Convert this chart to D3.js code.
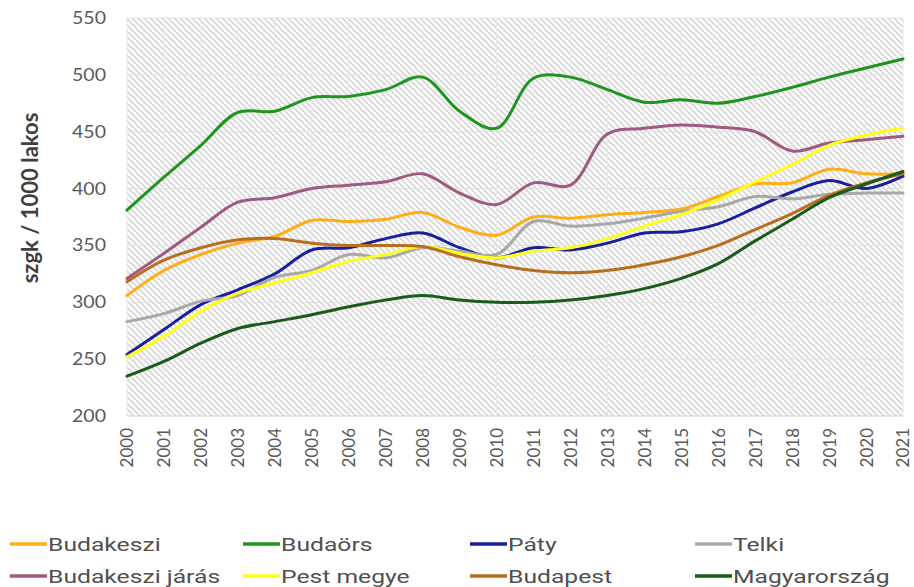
<!DOCTYPE html>
<html>
<head>
<meta charset="utf-8">
<script src="https://cdn.jsdelivr.net/npm/d3@7"></script>
<style>
  html, body { margin: 0; padding: 0; background: #fff; }
  svg { display: block; }
</style>
</head>
<body>
<svg id="chart" width="914" height="587"></svg>
<script>
// Passenger cars per 1000 inhabitants, 2000–2021
const years = [2000, 2001, 2002, 2003, 2004, 2005, 2006, 2007, 2008, 2009, 2010,
               2011, 2012, 2013, 2014, 2015, 2016, 2017, 2018, 2019, 2020, 2021];

const budakeszi     = [306, 328, 342, 352, 358, 372, 371, 373, 379, 366, 359, 375, 374, 377, 379, 382, 393, 404, 405, 417, 413, 413];
const budaors       = [381, 410, 438, 467, 468, 480, 481, 487, 498, 468, 453, 497, 498, 487, 476, 478, 475, 481, 489, 498, 506, 514];
const paty          = [254, 276, 298, 311, 325, 346, 348, 356, 361, 348, 339, 348, 346, 352, 361, 362, 369, 383, 397, 407, 400, 411];
const telki         = [283, 290, 301, 306, 322, 328, 342, 339, 348, 345, 342, 371, 367, 369, 374, 380, 384, 393, 391, 395, 396, 396];
const jaras         = [321, 343, 366, 388, 392, 400, 403, 406, 413, 396, 386, 405, 403, 448, 453, 456, 454, 450, 433, 440, 443, 446];
const pestMegye     = [252, 270, 292, 308, 317, 326, 336, 342, 349, 343, 339, 345, 348, 356, 367, 377, 390, 406, 421, 438, 447, 453];
const budapest      = [318, 337, 348, 355, 356, 352, 350, 350, 349, 340, 333, 328, 326, 328, 333, 340, 350, 364, 378, 394, 405, 413];
const magyarorszag  = [235, 248, 264, 277, 283, 289, 296, 302, 306, 302, 300, 300, 302, 306, 312, 321, 334, 354, 373, 392, 404, 415];

const seriesNames = ["Budakeszi", "Budaörs", "Páty", "Telki",
                     "Budakeszi járás", "Pest megye", "Budapest", "Magyarország"];
const seriesValues = [budakeszi, budaors, paty, telki, jaras, pestMegye, budapest, magyarorszag];
const seriesColors = ["#FFAE1A", "#1F951F", "#1A1F9C", "#A8A8A8",
                      "#A05A82", "#FFFF1A", "#B86E1E", "#1A5A1A"];

const yTicks = [200, 250, 300, 350, 400, 450, 500, 550];
const yTitle = "szgk / 1000 lakos";

const svg = d3.select("#chart");
const plot = { left: 127, right: 903, top: 18, bottom: 416 };

const x = d3.scalePoint().domain(years).range([plot.left, plot.right]);
const y = d3.scaleLinear().domain([200, 550]).range([plot.bottom, plot.top]);

// Diagonal hatch fill for the plotting area
const defs = svg.append("defs");
const pat = defs.append("pattern")
  .attr("id", "hatch")
  .attr("patternUnits", "userSpaceOnUse")
  .attr("width", 6).attr("height", 6);
pat.append("rect").attr("width", 6).attr("height", 6).attr("fill", "#ffffff");
pat.append("path")
  .attr("d", "M0,0 L6,6 M-1,5 L1,7 M5,-1 L7,1")
  .attr("stroke", "#d6d6d6")
  .attr("stroke-width", 1.6);

svg.append("rect")
  .attr("x", plot.left).attr("y", plot.top)
  .attr("width", plot.right - plot.left)
  .attr("height", plot.bottom - plot.top)
  .attr("fill", "url(#hatch)");

// Gridlines
svg.append("g")
  .selectAll("line")
  .data(yTicks.slice(1))
  .join("line")
  .attr("x1", plot.left).attr("x2", plot.right)
  .attr("y1", d => y(d)).attr("y2", d => y(d))
  .attr("stroke", "#e2e2e2").attr("stroke-width", 1);

svg.append("g")
  .selectAll("line")
  .data(years)
  .join("line")
  .attr("x1", d => x(d)).attr("x2", d => x(d))
  .attr("y1", plot.top).attr("y2", plot.bottom)
  .attr("stroke", "#e8e8e8").attr("stroke-width", 1);

svg.append("line")
  .attr("x1", plot.left).attr("x2", plot.right)
  .attr("y1", plot.bottom).attr("y2", plot.bottom)
  .attr("stroke", "#d0d0d0").attr("stroke-width", 1.2);

// Y axis labels
const yAxis = svg.append("g")
  .attr("transform", `translate(${plot.left - 21},0)`)
  .call(d3.axisLeft(y).tickValues(yTicks).tickSize(0).tickPadding(0));
yAxis.select(".domain").remove();
yAxis.selectAll("text")
  .attr("fill", "#5a5a5a")
  .attr("transform", "scale(1.15,1)")
  .style("font-family", "Lato, 'Open Sans', sans-serif")
  .style("font-size", "17px");

// X axis labels (rotated)
const xAxis = svg.append("g")
  .attr("transform", `translate(0,${plot.bottom})`)
  .call(d3.axisBottom(x).tickSize(0).tickPadding(0));
xAxis.select(".domain").remove();
xAxis.selectAll("text")
  .attr("fill", "#5a5a5a")
  .attr("transform", "rotate(-90)")
  .attr("text-anchor", "end")
  .attr("x", -12)
  .attr("y", 0)
  .attr("dy", "0.35em")
  .style("font-family", "Lato, 'Open Sans', sans-serif")
  .style("font-size", "17px");

// Y axis title
svg.append("text")
  .attr("transform", "translate(38,198) rotate(-90)")
  .attr("text-anchor", "middle")
  .attr("fill", "#404040")
  .style("font-family", "Lato, 'Open Sans', sans-serif")
  .style("font-weight", "bold")
  .style("font-size", "22px")
  .text(yTitle);

// Series lines
const line = d3.line()
  .x((d, i) => x(years[i]))
  .y(d => y(d))
  .curve(d3.curveCatmullRom.alpha(0.5));

svg.append("g")
  .selectAll("path")
  .data(seriesValues)
  .join("path")
  .attr("d", d => line(d))
  .attr("fill", "none")
  .attr("stroke", (d, i) => seriesColors[i])
  .attr("stroke-width", 3)
  .attr("stroke-linejoin", "round")
  .attr("stroke-linecap", "round");

// Legend: two rows of four
const legendCols = [10, 243, 470, 695];
const legendRows = [544, 576];
const legend = svg.append("g")
  .selectAll("g")
  .data(seriesNames)
  .join("g")
  .attr("transform", (d, i) => `translate(${legendCols[i % 4]},${legendRows[Math.floor(i / 4)]})`);

legend.append("line")
  .attr("x1", 0).attr("x2", 37)
  .attr("y1", 0).attr("y2", 0)
  .attr("stroke", (d, i) => seriesColors[i])
  .attr("stroke-width", 3.5);

legend.append("text")
  .attr("transform", "translate(38,0) scale(1.3,1)")
  .attr("dy", "0.35em")
  .attr("fill", "#505050")
  .style("font-family", "Roboto, sans-serif")
  .style("font-size", "19px")
  .text(d => d);
</script>
</body>
</html>
